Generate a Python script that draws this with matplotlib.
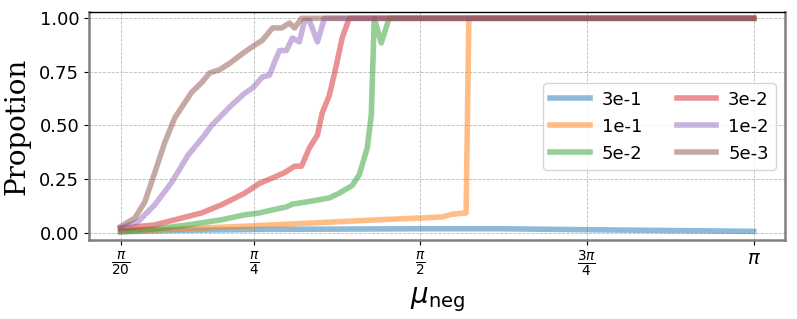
import numpy as np
import matplotlib
matplotlib.use('Agg')
import matplotlib.pyplot as plt

# ── Data ─────────────────────────────────────────────────────────────────────
labels = ['3e-1', '1e-1', '5e-2', '3e-2', '1e-2', '5e-3']
colors = ['tab:blue', 'tab:orange', 'tab:green', 'tab:red', 'tab:purple', 'tab:brown']

x_3e1 = [0.157, 0.380, 0.850, 1.564, 1.940, 2.410, 3.142]
y_3e1 = [0.003, 0.010, 0.015, 0.018, 0.018, 0.013, 0.006]

x_1e1 = [0.157, 0.742, 1.376, 1.564, 1.673, 1.720, 1.786, 1.799, 3.142]
y_1e1 = [0.005, 0.030, 0.060, 0.068, 0.073, 0.086, 0.092, 1.000, 1.000]

x_5e2 = [0.157, 0.318, 0.474, 0.633, 0.742, 0.812, 0.873, 0.939, 0.967, 1.033,
         1.141, 1.188, 1.249, 1.282, 1.320, 1.339, 1.353, 1.386, 1.423, 3.142]
y_5e2 = [0.008, 0.017, 0.036, 0.060, 0.083, 0.092, 0.106, 0.120, 0.133, 0.143,
         0.162, 0.184, 0.220, 0.270, 0.395, 0.550, 1.000, 0.885, 1.000, 1.000]

x_3e2 = [0.157, 0.318, 0.445, 0.539, 0.633, 0.742, 0.812, 0.873, 0.930, 0.977,
         1.010, 1.047, 1.085, 1.108, 1.141, 1.174, 1.202, 1.235, 3.142]
y_3e2 = [0.020, 0.036, 0.068, 0.092, 0.130, 0.184, 0.230, 0.255, 0.280, 0.310,
         0.310, 0.395, 0.455, 0.560, 0.640, 0.780, 0.910, 1.000, 1.000]

x_1e2 = [0.157, 0.238, 0.318, 0.398, 0.474, 0.553, 0.586, 0.680, 0.742, 0.779,
         0.826, 0.859, 0.883, 0.906, 0.939, 0.967, 1.000, 1.024, 1.047, 1.085,
         1.118, 3.142]
y_1e2 = [0.020, 0.050, 0.130, 0.235, 0.360, 0.455, 0.500, 0.595, 0.650, 0.675,
         0.726, 0.735, 0.796, 0.850, 0.850, 0.908, 0.890, 0.990, 0.990, 0.890,
         1.000, 1.000]

x_5e3 = [0.157, 0.224, 0.271, 0.318, 0.365, 0.412, 0.492, 0.539, 0.577, 0.624,
         0.671, 0.742, 0.779, 0.826, 0.873, 0.916, 0.953, 0.977, 1.010, 3.142]
y_5e3 = [0.028, 0.068, 0.143, 0.280, 0.420, 0.535, 0.655, 0.700, 0.745, 0.760,
         0.790, 0.843, 0.868, 0.898, 0.955, 0.955, 0.978, 0.955, 1.000, 1.000]

series_x = [x_3e1, x_1e1, x_5e2, x_3e2, x_1e2, x_5e3]
series_y = [y_3e1, y_1e1, y_5e2, y_3e2, y_1e2, y_5e3]

tick_pos = [np.pi / 20, np.pi / 4, np.pi / 2, 3 * np.pi / 4, np.pi]
tick_lab = [r'$\frac{\pi}{20}$', r'$\frac{\pi}{4}$', r'$\frac{\pi}{2}$',
            r'$\frac{3\pi}{4}$', r'$\pi$']

# ── Figure ───────────────────────────────────────────────────────────────────
fig = plt.figure(figsize=(7.97, 3.19), dpi=100)
ax = fig.add_axes([0.1117, 0.2486, 0.8733, 0.7128])

for xs, ys, c, lab in zip(series_x, series_y, colors, labels):
    ax.plot(xs, ys, color=c, lw=4, alpha=0.5, label=lab)

ax.set_xlim(0.008, 3.29)
ax.set_ylim(-0.033, 1.028)
ax.set_xticks(tick_pos)
ax.set_xticklabels(tick_lab, fontsize=14)
ax.set_yticks([0, 0.25, 0.5, 0.75, 1.0])
ax.set_yticklabels(['0.00', '0.25', '0.50', '0.75', '1.00'], fontsize=13)
ax.grid(True, linestyle='--', color='#bbbbbb', lw=0.6)

ax.set_xlabel(r'$\mu_{\rm neg}$', fontsize=20)
ax.set_ylabel('Propotion', fontsize=20, family='DejaVu Serif', labelpad=6)

for side in ['left', 'bottom', 'right']:
    ax.spines[side].set_color('grey')
    ax.spines[side].set_linewidth(1.8)
ax.spines['top'].set_color('black')
ax.spines['top'].set_linewidth(1.0)

ax.legend(ncol=2, fontsize=13, loc='center right',
          bbox_to_anchor=(1.0, 0.497), columnspacing=1.9,
          handlelength=2.2, handletextpad=0.65)

fig.savefig('out.png', dpi=100)
